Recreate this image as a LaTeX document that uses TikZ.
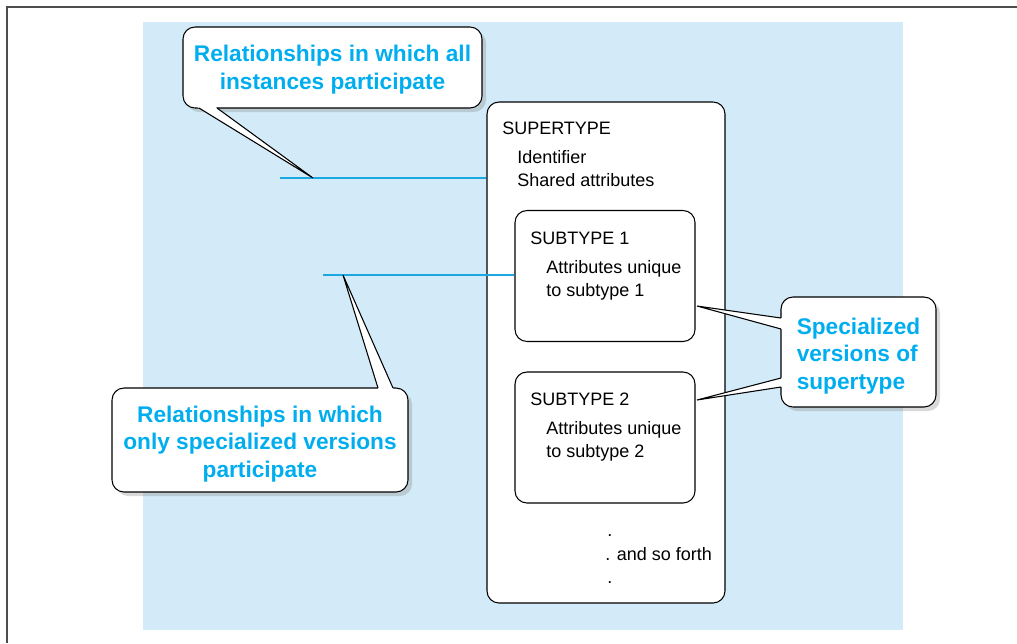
\documentclass[tikz,border=0pt]{standalone}
\usepackage{fontspec}
\setmainfont{Liberation Sans}
\usetikzlibrary{shadows,calc}
\definecolor{bgblue}{HTML}{D3EBF8}
\definecolor{cyantext}{HTML}{00AEEF}
\definecolor{lineblue}{HTML}{1BA8E0}
\definecolor{framegray}{HTML}{4D4D4D}
\tikzset{
  entity/.style={draw=black, line width=0.8pt, fill=white, rounded corners=9pt, inner sep=0pt},
  callbox/.style={draw=black, line width=0.8pt, fill=white, rounded corners=9pt, inner sep=0pt,
    drop shadow={shadow xshift=3pt, shadow yshift=-3pt, opacity=0.3}},
  calltext/.style={inner sep=0pt, font=\fontsize{17}{20.8}\selectfont\bfseries, text=cyantext},
  tailshadow/.style={fill=black!50, opacity=0.3},
  tailfill/.style={fill=white},
  tailline/.style={draw=black, line width=0.8pt, line join=miter},
  bline/.style={draw=lineblue, line width=0.9pt},
  lbl/.style={anchor=base west, inner sep=0pt, font=\fontsize{13.5}{16}\selectfont},
}
\begin{document}
\begin{tikzpicture}[x=0.75pt,y=-0.75pt]
\useasboundingbox (0,0) rectangle (1017,643);
% background
\fill[bgblue] (143,22) rectangle (903,630);
\draw[framegray, line width=1.5pt] (7,643) -- (7,7) -- (1017,7);

% entity boxes
\node[entity, minimum width=178.5pt, minimum height=375.75pt] (super) at (606,352.5) {};
\node[entity, minimum width=135pt, minimum height=98.25pt] (sub1) at (605,276) {};
\node[entity, minimum width=135pt, minimum height=98.25pt] (sub2) at (605,437.5) {};

% labels
\node[lbl] (supname) at (502,134) {SUPERTYPE};
\node[lbl] (supid) at (517,163) {Identifier};
\node[lbl] (supshared) at (517,186) {Shared attributes};
\node[lbl] (s1name) at (530,244) {SUBTYPE 1};
\node[lbl] (s1a) at (546,273) {Attributes unique};
\node[lbl] (s1b) at (546,296) {to subtype 1};
\node[lbl] (s2name) at (530,405) {SUBTYPE 2};
\node[lbl] (s2a) at (546,434) {Attributes unique};
\node[lbl] (s2b) at (546,457) {to subtype 2};
\node[lbl] (dot1) at (607,536) {.};
\node[lbl] (sofo) at (605,560) {. and so forth};
\node[lbl] (dot2) at (607,583) {.};

% blue relationship lines
\coordinate (l1) at (280,178);
\coordinate (l2) at (323,275);
\draw[bline] (l1) -- (l1 -| super.west);
\draw[bline] (l2) -- (l2 -| sub1.west);

% tail coordinates
\coordinate (t1) at (313,178);
\coordinate (b1a) at (199,108);
\coordinate (b1b) at (217,108);
\coordinate (t2) at (343,275);
\coordinate (b2a) at (378,388);
\coordinate (b2b) at (393,388);
\coordinate (t3a) at (697,306);
\coordinate (b3a) at (781,318);
\coordinate (b3b) at (781,329);
\coordinate (t3b) at (697,400);
\coordinate (b3c) at (781,378);
\coordinate (b3d) at (781,387);

% tail shadows
\fill[tailshadow, shift={(4,4)}] (b1a) -- (t1) -- (b1b) -- cycle;
\fill[tailshadow, shift={(4,4)}] (b2a) -- (t2) -- (b2b) -- cycle;
\fill[tailshadow, shift={(4,4)}] (b3a) -- (t3a) -- (b3b) -- cycle;
\fill[tailshadow, shift={(4,4)}] (b3c) -- (t3b) -- (b3d) -- cycle;

% callout boxes
\node[callbox, minimum width=224.25pt, minimum height=60.75pt] (c1) at (332.5,67.5) {};
\node[callbox, minimum width=222pt, minimum height=78pt] (c2) at (260,440) {};
\node[callbox, minimum width=116.25pt, minimum height=82.5pt] (c3) at (858.5,352) {};
\node[calltext, align=center] (c1t) at ($(c1.center)+(0,2)$)
  {Relationships in which all\\instances participate};
\node[calltext, align=center] (c2t) at ($(c2.center)+(0,4)$)
  {Relationships in which\\only specialized versions\\participate};
\node[calltext, align=left] (c3t) at ($(c3.center)+(0,4)$)
  {Specialized\\versions of\\supertype};

% tails
\fill[tailfill] ($(b1a)!-2.5pt!(t1)$) -- (t1) -- ($(b1b)!-2.5pt!(t1)$) -- cycle;
\draw[tailline] (b1a) -- (t1) -- (b1b);
\fill[tailfill] ($(b2a)!-2.5pt!(t2)$) -- (t2) -- ($(b2b)!-2.5pt!(t2)$) -- cycle;
\draw[tailline] (b2a) -- (t2) -- (b2b);
\fill[tailfill] ($(b3a)!-2.5pt!(t3a)$) -- (t3a) -- ($(b3b)!-2.5pt!(t3a)$) -- cycle;
\draw[tailline] (b3a) -- (t3a) -- (b3b);
\fill[tailfill] ($(b3c)!-2.5pt!(t3b)$) -- (t3b) -- ($(b3d)!-2.5pt!(t3b)$) -- cycle;
\draw[tailline] (b3c) -- (t3b) -- (b3d);
\end{tikzpicture}
\end{document}
